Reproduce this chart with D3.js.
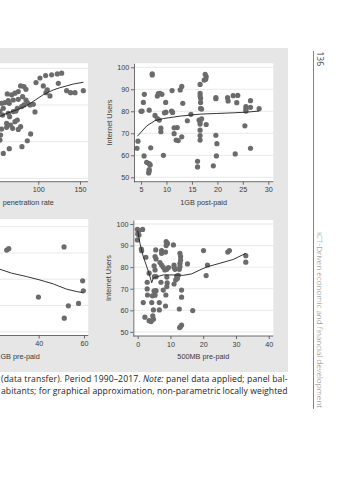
<!DOCTYPE html>
<html><head><meta charset="utf-8">
<script src="https://cdn.jsdelivr.net/npm/d3@7"></script>
<style>html,body{margin:0;padding:0;background:#fff;}svg{display:block;}</style>
</head><body>
<svg id="c" width="359" height="480"></svg>
<script>
// ---- Panel 1: penetration rate (left part cut off by the page) ----
const penX = [97.2,102,108.8,116,122.8,128,106,110.8,124,114,109.2,134,138.8,144,154,56,60,64,62.8,68,72,76,78.8,82.8,85.2,81.2,76,70,65.2,58,64,70,73.2,74.8,80,82.8,85.2,86.8,90,94,96,57.2,54,56,62,66.8,69.2,72,74.8,76,78.8,65.6,62,54,58,65.2,80.4,86.8,90.8,54.8];
const penY = [92.2,94.7,96,96.4,96.9,97.3,90.4,88.2,91.8,84.9,86.7,87.8,86.7,86.7,87.8,80.9,81.3,82.4,86,85.5,86.4,87.3,90.4,90,88.5,84.5,83.1,82.7,80.9,78.2,75.5,76.4,76.7,78.2,79.1,80,82.7,81.3,80,80.4,76.2,74.5,76.4,66.9,67.8,69.1,67.3,70.9,71.8,66.7,68.2,73.6,70,60.9,53.6,56.2,57.3,60.5,64.2,63.6];
const penLoX = [50,62,74,86,94,106,118,126,134,142,154];
const penLoY = [73.0,75.4,77.3,79.6,82.0,85.6,88.2,89.4,90.4,91.4,92.4];
const penXTicks = [100,150];
const penYGrid = [40,60,80,100];

// ---- Panel 2: 1GB post-paid ----
const postX = [7.2,7.2,5.65,5.46,5.2,5.0,6.6,8.4,8.7,8.2,9.1,9.84,11.1,12.7,13.0,13.2,11.0,11.2,9.6,9.9,7.75,8.2,8.6,8.9,8.9,11.5,12.1,11.5,11.9,12.3,13.0,14.1,14.8,9.4,4.4,4.2,6.9,5.6,6.1,6.6,6.8,6.6,6.5,6.6,16.6,16.6,16.7,16.7,16.7,16.9,16.6,17.6,17.8,17.7,17.4,16.9,16.4,16.6,16.6,17.8,16.6,16.6,16.6,16.1,16.1,19.7,19.7,19.7,19.9,19.8,19.2,22.0,22.1,23.1,24.0,23.8,23.5,25.4,25.6,25.6,25.6,26.5,26.5,28.2,26.5];
const postY = [97,96.5,87.7,84,80.1,80.0,80.5,88.0,88.1,86.9,87.7,84,89.4,89.7,91.3,83.6,80.1,79.5,79.3,79.6,78.1,76.7,76.0,72.3,70.7,72.5,72.6,69.8,66.9,66.7,68.4,75.7,78.6,60.0,66.4,63.2,63.4,59.7,56.8,56.2,55.6,53.5,52.0,52.9,88.1,86.9,85.9,84.0,81.3,81.0,92.2,96.8,95.7,94.5,94.2,76.6,76.0,75.2,74.2,74.0,71.4,69.0,66.9,54.7,57.3,86.2,85.7,69.1,65.3,59.7,55.2,86.2,84.7,87.1,87.2,83.9,60.6,73.4,82.1,80.9,80.1,84.8,81.8,81.2,63.2];
const postLoX = [4.3,5.2,6.1,7.7,9.4,12.7,16.6,19.9,23.1,25.7,28.2];
const postLoY = [68.7,71.0,73.3,75.7,76.7,77.8,78.7,79.0,79.3,79.6,80.1];
const postXTicks = [5,10,15,20,25,30];
const postYTicks = [50,60,70,80,90,100];

// ---- Panel 3: GB pre-paid (left part cut off by the page) ----
const preGBX = [25.9,26.8,51.2,39.9,59.4,59.7,53.1,57.6,51.3];
const preGBY = [91.1,91.6,92.3,73.2,79.4,75.6,69.9,70.8,65.2];
const preGBLoX = [22.9,28.1,34.7,40.6,46.5,52.4,56.8,59.4];
const preGBLoY = [83.8,82.3,81.0,79.7,78.2,76.2,75.3,74.9];
const preGBXTicks = [40,60];
const preGBYGrid = [60,70,80,90,100];

// ---- Panel 4: 500MB pre-paid ----
const preMBX = [-0.1,0.3,0.0,0.4,-0.1,1.5,1.1,1.2,2.5,3.5,2.9,2.9,3.0,1.7,2.2,3.5,4.1,4.8,4.6,4.8,4.3,6.6,6.6,8.5,4.5,5.3,5.0,5.6,7.8,8.6,7.1,9.0,8.9,11.1,13.4,13.4,12.7,13.4,13.1,12.8,16.8,5.5,5.3,5.6,5.0,5.3,5.1,5.6,6.8,7.3,7.3,7.3,8.7,9.1,8.7,8.5,7.8,8.9,9.4,8.3,10.9,11.1,11.1,11.4,11.6,12.1,12.4,11.9,12.9,13.1,13.1,12.9,12.9,12.7,15.2,20.1,20.9,21.3,27.5,28.0,33.0,33.0,8.9];
const preMBY = [97.5,96.9,95.4,94.9,92.6,97.5,88.4,87.6,84.6,77.2,73.0,69.9,67.1,63.6,56.8,55.2,54.8,55.9,57.4,60.2,63.6,63.6,60.2,62.0,66.7,67.0,69.0,69.1,69.4,67.1,73.0,72.7,71.0,72.2,69.4,66.1,60.6,53.2,52.5,52.0,59.9,88.0,84.9,83.8,80.6,78.7,75.6,75.6,82.1,81.0,87.7,86.4,91.8,91.0,90.0,87.0,79.9,79.0,79.8,78.7,90.3,81.0,79.9,79.0,74.1,74.8,76.2,75.9,86.4,84.9,83.3,81.8,80.2,79.0,81.5,87.7,76.1,81.0,87.0,87.7,85.3,82.3,75.4];
const preMBLoX = [0.0,0.7,1.7,3.3,4.3,4.7,5.3,7.8,10.9,13.9,16.5,19.0,21.3,25.1,29.2,33.0];
const preMBLoY = [96.9,91.0,84.9,77.9,72.8,74.8,75.3,76.4,76.4,76.2,76.9,78.7,80.2,81.8,83.6,86.4];
const preMBXTicks = [0,10,20,30,40];
const preMBYTicks = [50,60,70,80,90,100];

const captionLine1 = ["(data transfer). Period 1990\u20132017. ", "Note:", " panel data applied; panel bal-"];
const captionLine2 = "abitants; for graphical approximation, non-parametric locally weighted";
const pageNumber = "136";
const runningHead = "ICT-Driven economic and financial development";

const svg = d3.select('#c');
const FONT = "'Liberation Sans', Arial, sans-serif";

svg.append('rect').attr('x',0).attr('y',48).attr('width',288).attr('height',324).attr('fill','#e6e6e6');

function panel(c) {
  const g = svg.append('g');
  const x = d3.scaleLinear().domain(c.xDom).range([c.left, c.right]);
  const y = d3.scaleLinear().domain(c.yDom).range([c.bottom, c.top]);
  const L = Math.max(c.left, 0);
  g.append('rect').attr('x',L).attr('y',c.top).attr('width',c.right-L).attr('height',c.bottom-c.top).attr('fill','#fff');
  g.append('g').selectAll('line').data(c.yTicks).join('line')
    .attr('x1',L).attr('x2',c.right).attr('y1',d=>y(d)).attr('y2',d=>y(d))
    .attr('stroke','#e2e2e2').attr('stroke-width',0.8);
  g.append('g').selectAll('circle').data(c.xs.map((v,i)=>[v,c.ys[i]])).join('circle')
    .attr('cx',d=>x(d[0])).attr('cy',d=>y(d[1])).attr('r',2.6).attr('fill','#6b6b6b');
  const line = d3.line().x(d=>x(d[0])).y(d=>y(d[1]));
  g.append('path').attr('d', line(c.lx.map((v,i)=>[v,c.ly[i]])))
    .attr('fill','none').attr('stroke','#1e1e1e').attr('stroke-width',0.9);
  const xa = g.append('g').attr('transform',`translate(0,${c.bottom})`)
    .call(d3.axisBottom(x).tickValues(c.xTicks).tickSize(3).tickPadding(2.4).tickSizeOuter(0));
  xa.select('.domain').attr('d',`M${L},0H${c.right}`);
  const axes = [xa];
  if (c.showY) {
    const ya = g.append('g').attr('transform',`translate(${c.left},0)`)
      .call(d3.axisLeft(y).tickValues(c.yTicks).tickSize(3).tickPadding(1.7).tickSizeOuter(0));
    axes.push(ya);
    g.append('text').attr('transform',`translate(${c.left-22.3},${(c.top+c.bottom)/2}) rotate(-90)`)
      .attr('text-anchor','middle').attr('fill','#3a3a3a').style('font-family',FONT).style('font-size','7.3px')
      .text('Internet Users');
  }
  axes.forEach(a=>{
    a.selectAll('path,line').attr('stroke','#4a4a4a').attr('stroke-width',0.8);
    a.selectAll('text').attr('fill','#3a3a3a').style('font-family',FONT).style('font-size','7.2px');
  });
  const tx = c.titleX !== undefined ? c.titleX : (c.left+c.right)/2;
  g.append('text').attr('x',tx).attr('y',c.bottom+23)
    .attr('text-anchor',c.titleX !== undefined ? 'start' : 'middle')
    .attr('fill','#3a3a3a').style('font-family',FONT).style('font-size','7.3px')
    .text(c.xTitle);
}

panel({left:-51,right:88,top:63.3,bottom:181.7,xDom:[-7.1,159.6],yDom:[38.2,102.7],
  xs:penX,ys:penY,lx:penLoX,ly:penLoY,xTicks:penXTicks,yTicks:penYGrid,
  xTitle:'penetration rate',titleX:2.7,showY:false});
panel({left:134,right:273.3,top:63.3,bottom:181.7,xDom:[3.62,30.98],yDom:[48.0,101.8],
  xs:postX,ys:postY,lx:postLoX,ly:postLoY,xTicks:postXTicks,yTicks:postYTicks,xTitle:'1GB post-paid',showY:true});
panel({left:-51,right:88.3,top:219,bottom:335.5,xDom:[0.45,61.9],yDom:[58.6,102.9],
  xs:preGBX,ys:preGBY,lx:preGBLoX,ly:preGBLoY,xTicks:preGBXTicks,yTicks:preGBYGrid,
  xTitle:'GB pre-paid',titleX:0.4,showY:false});
panel({left:133.3,right:273.3,top:220,bottom:336,xDom:[-1.34,41.4],yDom:[48.1,101.85],
  xs:preMBX,ys:preMBY,lx:preMBLoX,ly:preMBLoY,xTicks:preMBXTicks,yTicks:preMBYTicks,xTitle:'500MB pre-paid',showY:true});

// caption
const CAP = "'Open Sans', 'Noto Sans', sans-serif";
const t1 = svg.append('text').attr('x',1).attr('y',382).attr('fill','#222')
  .style('font-family',CAP).style('font-size','8.6px')
  .attr('textLength',286.5).attr('lengthAdjust','spacing');
captionLine1.forEach((s,i)=>t1.append('tspan').style('font-style', i===1?'italic':'normal').text(s));
svg.append('text').attr('x',1).attr('y',394).attr('fill','#222')
  .style('font-family',CAP).style('font-size','8.6px')
  .attr('textLength',286.5).attr('lengthAdjust','spacing').text(captionLine2);

// running head
svg.append('line').attr('x1',313.5).attr('x2',313.5).attr('y1',51).attr('y2',409)
  .attr('stroke','#666').attr('stroke-width',0.8);
svg.append('text').attr('transform','translate(317,51.5) rotate(90)').attr('fill','#444')
  .style('font-family',CAP).style('font-size','8.5px').text(pageNumber);
svg.append('text').attr('transform','translate(317,232) rotate(90)').attr('fill','#777')
  .style('font-family',CAP).style('font-size','8px').style('font-weight','300')
  .attr('textLength',176).attr('lengthAdjust','spacingAndGlyphs').text(runningHead);
</script>
</body></html>
